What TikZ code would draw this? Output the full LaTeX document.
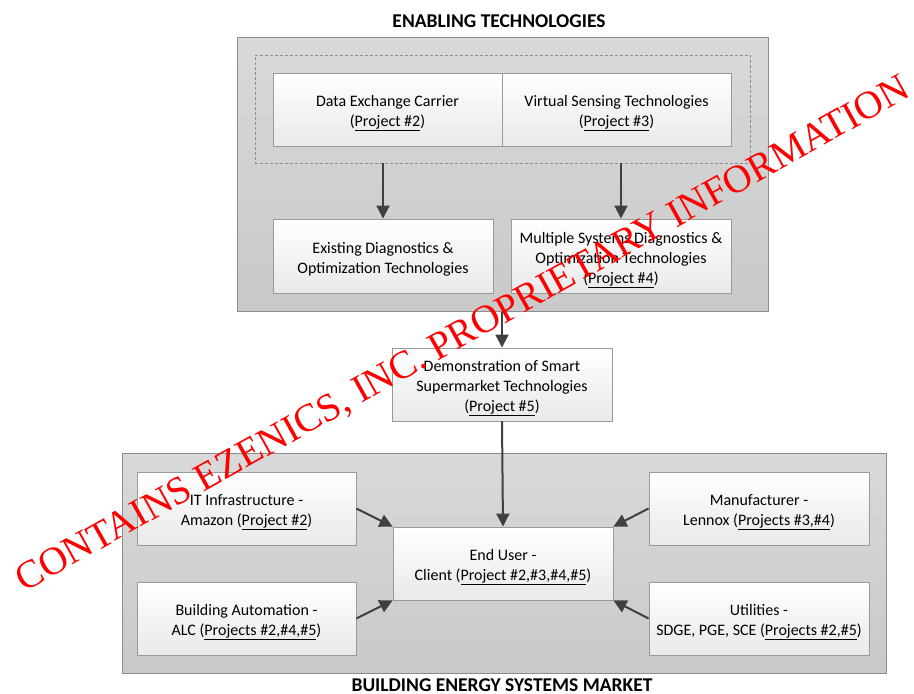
\documentclass[tikz,border=0pt]{standalone}
\usepackage{fontspec}
\setmainfont{Carlito}
\newfontfamily\wmfont{Liberation Serif}
\usetikzlibrary{arrows.meta,calc}
\definecolor{contTop}{HTML}{D9D9D9}
\definecolor{contBot}{HTML}{C9C9C9}
\definecolor{contLine}{HTML}{8C8C8C}
\definecolor{boxBot}{HTML}{E9E9E9}
\definecolor{boxLine}{HTML}{9A9A9A}
\definecolor{arrCol}{HTML}{404040}
\definecolor{wmred}{HTML}{FF0000}
\newcommand{\boxtext}[1]{\raisebox{-3pt}[\height][\depth]{\begin{tabular}{@{}c@{}}#1\end{tabular}}}
\tikzset{
  container/.style={draw=contLine, line width=1pt, top color=contTop, bottom color=contBot, inner sep=0pt},
  boxnode/.style={draw=boxLine, line width=0.9pt, top color=white, bottom color=boxBot,
    inner sep=2pt, font=\fontsize{16}{20}\selectfont},
  dashbox/.style={draw=contLine, line width=0.8pt, dash pattern=on 3pt off 2pt, inner sep=0pt},
  arr/.style={draw=arrCol, line width=2pt, -{Triangle[length=13pt,width=13pt]}},
  titlenode/.style={font=\bfseries\fontsize{19.5}{22}\selectfont, inner sep=0pt},
}
\begin{document}
\begin{tikzpicture}[x=1pt,y=-1pt]
\useasboundingbox (0,0) rectangle (914,694);
% containers
\node[container, minimum width=531pt, minimum height=274pt] (enab) at (502.5,174) {};
\node[container, minimum width=764pt, minimum height=220pt] (market) at (504,563) {};
\node[dashbox, minimum width=495pt, minimum height=108pt] (dash) at (502.5,109) {};
% titles
\node[titlenode] (t1) at (499,21) {ENABLING TECHNOLOGIES};
\node[titlenode] (t2) at (502,685) {BUILDING ENERGY SYSTEMS MARKET};
% top boxes
\node[boxnode, minimum width=229pt, minimum height=73pt] (dec) at (387.5,109.5) {\boxtext{Data Exchange Carrier\\(\underline{Project \#2})}};
\node[boxnode, minimum width=229pt, minimum height=73pt] (vst) at (616.5,109.5) {\boxtext{Virtual Sensing Technologies\\(\underline{Project \#3})}};
\node[boxnode, minimum width=220pt, minimum height=74pt] (exist) at (383,256) {\boxtext{Existing Diagnostics \&\\Optimization Technologies}};
\node[boxnode, minimum width=220pt, minimum height=74pt] (multi) at (621,256) {\boxtext{Multiple Systems Diagnostics \&\\Optimization Technologies\\(\underline{Project \#4})}};
% demonstration
\node[boxnode, minimum width=220pt, minimum height=73pt] (demo) at (502,384.5) {\boxtext{Demonstration of Smart\\Supermarket Technologies\\(\underline{Project \#5})}};
% market boxes
\node[boxnode, minimum width=219pt, minimum height=73pt] (it) at (246.5,508.5) {\boxtext{IT Infrastructure -\\Amazon (\underline{Project \#2})}};
\node[boxnode, minimum width=219pt, minimum height=73pt] (ba) at (246.5,618.5) {\boxtext{Building Automation -\\ALC (\underline{Projects \#2,\#4,\#5})}};
\node[boxnode, minimum width=220pt, minimum height=73pt] (eu) at (503,563.5) {\boxtext{End User -\\Client (\underline{Project \#2,\#3,\#4,\#5})}};
\node[boxnode, minimum width=220pt, minimum height=73pt] (man) at (759,508.5) {\boxtext{Manufacturer -\\Lennox (\underline{Projects \#3,\#4})}};
\node[boxnode, minimum width=220pt, minimum height=73pt] (util) at (759,618.5) {\boxtext{Utilities -\\SDGE, PGE, SCE (\underline{Projects \#2,\#5})}};
% connectors
\draw[arr] (dash.south -| exist.north) -- (exist.north);
\draw[arr] (dash.south -| multi.north) -- (multi.north);
\draw[arr] (enab.south -| demo.north) -- (demo.north);
\draw[arr] (demo.south) -- (eu.north);
\draw[arr] (it.east) -- (eu.north west);
\draw[arr] (ba.east) -- (eu.south west);
\draw[arr] (man.west) -- (eu.north east);
\draw[arr] (util.west) -- (eu.south east);
% watermark
\node[text=wmred, rotate=29.2, inner sep=0pt, font=\wmfont\fontsize{39.3}{41}\selectfont] (wm) at (463.5,335.5) {CONTAINS EZENICS, INC. PROPRIETARY INFORMATION};
\end{tikzpicture}
\end{document}
